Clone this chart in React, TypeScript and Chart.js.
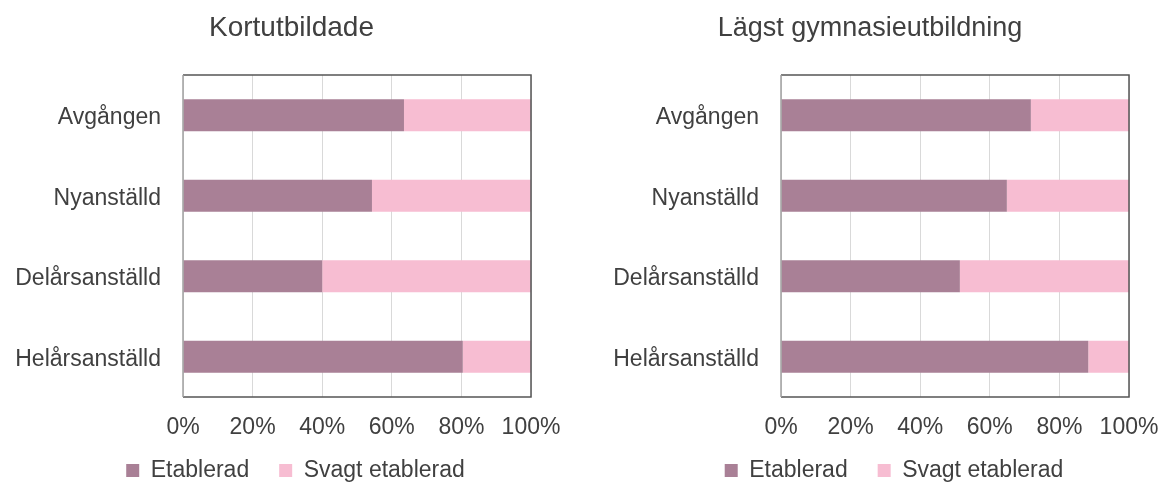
import React, { useEffect, useRef } from "react";
import { Chart, registerables } from "chart.js";

Chart.register(...registerables);

const categories = ["Avgången", "Nyanställd", "Delårsanställd", "Helårsanställd"];
const seriesNames = ["Etablerad", "Svagt etablerad"];
const kortEtablerad = [63.5, 54.3, 40.0, 80.4];
const kortSvagt = [36.5, 45.7, 60.0, 19.6];
const gymEtablerad = [71.8, 64.9, 51.4, 88.3];
const gymSvagt = [28.2, 35.1, 48.6, 11.7];
const xTicks = [0, 20, 40, 60, 80, 100];
const titles = ["Kortutbildade", "Lägst gymnasieutbildning"];

const COL1 = "#A98096";
const COL2 = "#F7BDD2";
const TEXT = "#404040";
const FONT = "'Liberation Sans', Arial, sans-serif";

const framePlugin = {
  id: "frame",
  afterDraw(chart: any) {
    const { ctx, chartArea: a } = chart;
    ctx.save();
    ctx.lineWidth = 1.5;
    ctx.strokeStyle = "#555555";
    ctx.beginPath();
    ctx.moveTo(a.left, a.top);
    ctx.lineTo(a.right, a.top);
    ctx.lineTo(a.right, a.bottom);
    ctx.lineTo(a.left, a.bottom);
    ctx.stroke();
    ctx.strokeStyle = "#A0A0A0";
    ctx.beginPath();
    ctx.moveTo(a.left, a.top);
    ctx.lineTo(a.left, a.bottom);
    ctx.stroke();
    ctx.restore();
  },
};

function makeLegendMover(centerX: number, top: number) {
  return {
    id: "legendMover",
    beforeDraw(chart: any) {
      const lg = chart.legend;
      if (!lg) return;
      const w = lg.right - lg.left;
      const h = lg.bottom - lg.top;
      lg.left = centerX - w / 2;
      lg.right = centerX + w / 2;
      lg.top = top;
      lg.bottom = top + h;
    },
  };
}

const CANVAS_H = 508;

function Panel(props: {
  a: number[];
  b: number[];
  left: number;
  width: number;
  yWidth: number;
  padRight: number;
  legendCenter: number;
}) {
  const ref = useRef<HTMLCanvasElement>(null);
  useEffect(() => {
    const chart = new Chart(ref.current as HTMLCanvasElement, {
      type: "bar",
      data: {
        labels: categories,
        datasets: [
          { label: seriesNames[0], data: props.a, backgroundColor: COL1, barPercentage: 0.4, categoryPercentage: 1 },
          { label: seriesNames[1], data: props.b, backgroundColor: COL2, barPercentage: 0.4, categoryPercentage: 1 },
        ],
      },
      options: {
        indexAxis: "y",
        animation: false,
        responsive: false,
        maintainAspectRatio: false,
        layout: { padding: { left: 0, right: props.padRight, top: 75, bottom: 0 } },
        scales: {
          x: {
            stacked: true,
            min: 0,
            max: 100,
            afterBuildTicks: (axis: any) => {
              axis.ticks = xTicks.map((v) => ({ value: v }));
            },
            afterFit: (axis: any) => {
              axis.height = 48;
              axis.paddingLeft = 0;
              axis.paddingRight = 0;
            },
            ticks: {
              callback: (v: any) => v + "%",
              color: TEXT,
              font: { family: FONT, size: 23 },
              padding: 17,
              maxRotation: 0,
              autoSkip: false,
            },
            grid: { color: "#D9D9D9", lineWidth: 1, drawTicks: false },
            border: { display: false },
          },
          y: {
            stacked: true,
            afterFit: (axis: any) => {
              axis.width = props.yWidth;
              axis.paddingTop = 0;
              axis.paddingBottom = 0;
            },
            ticks: {
              color: TEXT,
              font: { family: FONT, size: 23 },
              padding: 22,
              labelOffset: 2.5,
              autoSkip: false,
            },
            grid: { display: false, drawTicks: false },
            border: { display: false },
          },
        },
        plugins: {
          title: { display: false },
          legend: {
            position: "bottom",
            labels: {
              color: TEXT,
              font: { family: FONT, size: 23 },
              boxWidth: 13,
              boxHeight: 13,
              padding: 30,
            },
          },
          tooltip: { enabled: false },
        },
      },
      plugins: [framePlugin, makeLegendMover(props.legendCenter, 429)],
    } as any);
    return () => chart.destroy();
  }, []);
  return (
    <canvas
      ref={ref}
      width={props.width}
      height={CANVAS_H}
      style={{ position: "absolute", left: props.left, top: 0, width: props.width, height: CANVAS_H }}
    />
  );
}

function Title(props: { text: string; center: number; size: number }) {
  return (
    <div
      style={{
        position: "absolute",
        left: props.center - 250,
        width: 500,
        top: 13,
        textAlign: "center",
        fontFamily: FONT,
        fontSize: props.size,
        lineHeight: "28px",
        color: TEXT,
        whiteSpace: "nowrap",
      }}
    >
      {props.text}
    </div>
  );
}

export default function App() {
  return (
    <div style={{ position: "absolute", left: 0, top: 0, width: 1160, height: 489, background: "#fff", overflow: "hidden" }}>
      <Panel a={kortEtablerad} b={kortSvagt} left={0} width={584} yWidth={183} padRight={53} legendCenter={295.5} />
      <Panel a={gymEtablerad} b={gymSvagt} left={600} width={560} yWidth={181} padRight={31} legendCenter={294} />
      <Title text={titles[0]} center={291.5} size={28} />
      <Title text={titles[1]} center={870} size={27} />
    </div>
  );
}
